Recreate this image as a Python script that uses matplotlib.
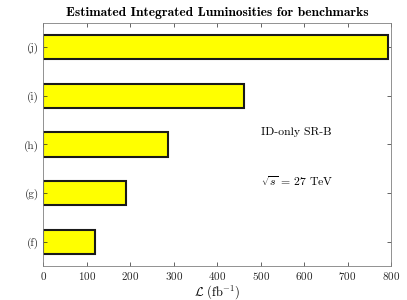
import matplotlib
matplotlib.use('Agg')
import matplotlib.pyplot as plt

# Valeurs
labels = ['(f)', '(g)', '(h)', '(i)', '(j)']
lumi = [120, 190, 287, 462, 792]
xticks = [0, 100, 200, 300, 400, 500, 600, 700, 800]

plt.rcParams['font.family'] = 'cmr10'
plt.rcParams['mathtext.fontset'] = 'cm'
plt.rcParams['axes.unicode_minus'] = False
plt.rcParams['axes.formatter.use_mathtext'] = True


def main():
    fig = plt.figure(figsize=(4.07, 3.0), dpi=100)
    ax = fig.add_axes([0.1064, 0.1133, 0.8543, 0.811])

    pos = range(1, len(labels) + 1)
    ax.barh(pos, lumi, height=0.5, color='#ffff00', edgecolor='#1a1a1a', linewidth=1.5)

    ax.set_xlim(0, 800)
    ax.set_ylim(0.5, 5.5)
    ax.set_xticks(xticks)
    ax.set_yticks(list(pos))
    ax.set_yticklabels(labels)
    ax.tick_params(direction='in', top=True, right=True, length=3, width=0.5,
                   labelsize=8, colors='#262626', pad=3)
    for sp in ax.spines.values():
        sp.set_color('#808080')
        sp.set_linewidth(0.6)

    ax.set_xlabel(r'$\mathcal{L}$ (fb$^{-1}$)', fontsize=9, labelpad=1)
    ax.set_title('Estimated Integrated Luminosities for benchmarks',
                 fontsize=9.7, family='cmb10', pad=5)

    ax.text(500, 3.25, 'ID-only SR-B', fontsize=8.5, va='center', ha='left')
    ax.text(500, 2.25, r'$\sqrt{s}$ = 27 TeV', fontsize=8.5, va='center', ha='left')

    fig.savefig('out.png', dpi=100)


if __name__ == '__main__':
    main()
